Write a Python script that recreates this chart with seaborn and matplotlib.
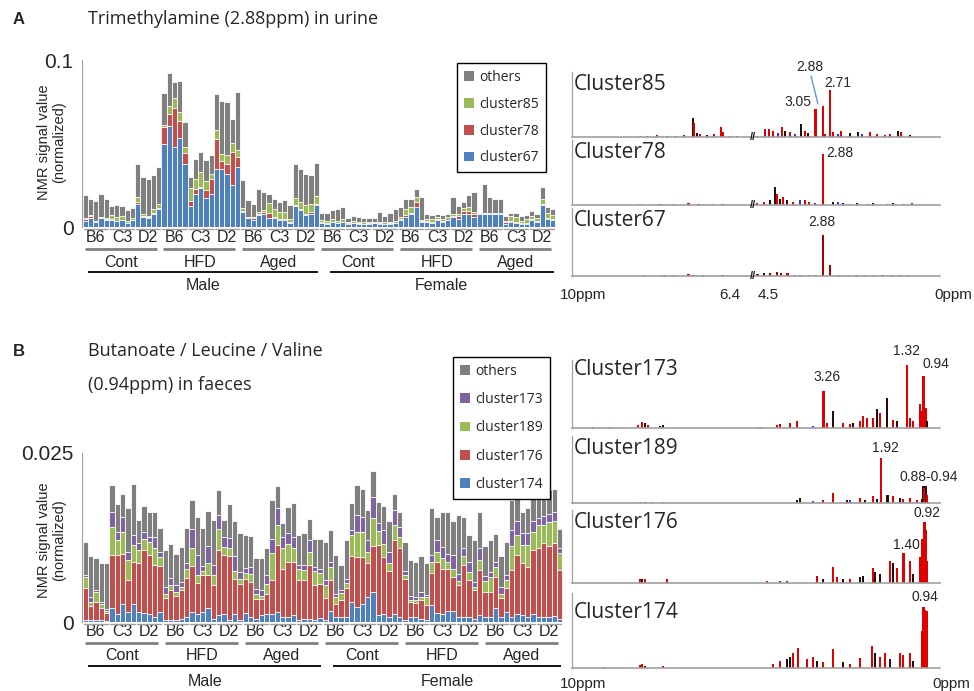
import numpy as np
import matplotlib
matplotlib.use("Agg")
import matplotlib.pyplot as plt
import seaborn as sns
from matplotlib.patches import Patch
from matplotlib.lines import Line2D

# ----------------------------------------------
# Data: panel A (urine, trimethylamine)
# ----------------------------------------------
strains = ["B6", "C3", "D2"]
conditions = ["Cont", "HFD", "Aged"]
sexes = ["Male", "Female"]

a_cluster67 = [.0038, .0054, .003, .0054, .004, .0044, .0034, .004, .0024, .004,
               .014, .006, .0054, .008, .011, .050, .0606, .0482, .053, .038,
               .0124, .020, .0233, .0173, .020, .0347, .0347, .032, .025, .036,
               .009, .0054, .0044, .007, .008, .0054, .0052, .0044, .0044, .0024,
               .0124, .0104, .0074, .008, .013,
               .0026, .002, .0028, .0022, .0028, .002, .0022, .002, .0018, .002,
               .0022, .002, .0018, .002, .0022, .004, .006, .0076, .012, .003,
               .003, .0025, .004, .003, .004, .006, .005, .0076, .0078, .006,
               .0075, .0076, .0076, .0075, .0075, .002, .003, .0026, .0018, .002,
               .004, .003, .013, .005, .004]
a_cluster78 = [.001, .001, .0005, .0005, .0008, .0003, .0003, .0003, .0002, .0003,
               .0008, .0003, .0003, .0005, .0005, .0096, .0072, .023, .0106, .0066,
               .003, .003, .0005, .005, .009, .018, .005, .006, .020, .006,
               .0005, .0003, .001, .001, .001, .003, .0005, .0003, .0003, .0003,
               .001, .0005, .0005, .0008, .001,
               .0003, .0003, .0003, .0003, .0003, .0002, .0002, .0002, .0002, .0002,
               .0002, .0002, .0002, .0002, .0002, .0006, .001, .0006, .003, .0003,
               .0003, .0003, .0005, .0003, .0003, .0004, .0015, .002, .002, .002,
               .0002, .0003, .0003, .0003, .0003, .0008, .0005, .0003, .0003, .0003,
               .0005, .0003, .001, .0005, .0005]
a_cluster85 = [.0003, .0006, .0003, .0003, .0003, .0024, .002, .002, .0008, .0008,
               .003, .0015, .0008, .0024, .002, .0014, .0044, .006, .0054, .0034,
               .008, .006, .009, .005, .003, .0056, .004, .005, .0054, .004,
               .002, .0005, .0003, .001, .001, .006, .005, .004, .004, .002,
               .004, .004, .005, .005, .0046,
               .001, .0015, .0015, .0012, .0015, .001, .001, .0008, .001, .001,
               .0008, .001, .001, .0008, .001, .0014, .004, .004, .003, .0007,
               .0015, .002, .0015, .0015, .0015, .0016, .0015, .002, .002, .001,
               .0003, .0003, .0003, .0003, .0003, .001, .003, .003, .0015, .0025,
               .002, .002, .003, .003, .0025]
a_others = [.0139, .0100, .0119, .0138, .0119, .0053, .0073, .0061, .007, .0063,
            .0202, .0222, .0225, .0201, .0222, .019, .0198, .0095, .0186, .0147,
            .0066, .012, .0122, .0127, .011, .0212, .0318, .0317, .0143, .035,
            .0165, .0098, .0083, .0137, .011, .0056, .006, .006, .0076, .0086,
            .0206, .0201, .0191, .0172, .0198,
            .0043, .0044, .0054, .0069, .0072, .002, .0032, .0028, .0022, .0024,
            .0024, .0058, .0038, .0052, .0076, .006, .006, .0043, .0045, .014,
            .0032, .0022, .002, .0022, .0017, .010, .0047, .0031, .0072, .012,
            .0005, .0173, .0098, .0084, .0084, .0028, .0021, .0027, .003, .0024,
            .0031, .0027, .0071, .0035, .0035]

# ----------------------------------------------
# Data: panel B (faeces, butanoate / leucine / valine)
# ----------------------------------------------
b_cluster174 = [.0003, .0003, .0003, .0003, .0002, .002, .0012, .0027, .0015, .0027,
                .0015, .0013, .0012, .0007, .0015, .0003, .0003, .0003, .0005, .0007,
                .0015, .0012, .0015, .002, .0005, .001, .0012, .0003, .0012, .0003,
                .0013, .0007, .0004, .0011, .0012, .0012, .0015, .0007, .0007, .0011,
                .0003, .0004, .0005, .0003, .0006,
                .0003, .0017, .0007, .0008, .0008, .003, .0022, .0027, .0037, .0045,
                .001, .0012, .0008, .0012, .0008, .0003, .0007, .0007, .0004, .0003,
                .0025, .0013, .0012, .0017, .0017, .0007, .0008, .0007, .0004, .001,
                .0007, .0008, .002, .0008, .0015, .0008, .0012, .001, .0008, .0012,
                .0008, .0008, .0008, .0009, .0005]
b_cluster176 = [.0047, .0021, .0027, .0017, .0012, .0079, .0087, .0074, .0047, .0062,
                .0072, .0093, .0087, .0077, .0068, .0032, .0044, .0035, .0042, .0058,
                .0068, .0045, .0054, .005, .005, .0097, .0087, .0094, .0052, .0053,
                .005, .0052, .003, .0023, .003, .005, .0099, .0072, .0082, .0078,
                .0059, .0058, .0079, .0052, .005,
                .0032, .0045, .002, .0025, .0042, .0067, .0074, .0069, .005, .0067,
                .0104, .0084, .0067, .0109, .0102, .006, .0022, .0021, .0028, .0022,
                .0047, .0076, .0067, .0062, .005, .0047, .0077, .0055, .0043, .0067,
                .0037, .0037, .0047, .0027, .0035, .0069, .0087, .0077, .0074, .0094,
                .0101, .0109, .0105, .0108, .0072]
b_cluster189 = [.0017, .0006, .0015, .0007, .0003, .0041, .0022, .0032, .0029, .0025,
                .002, .0017, .002, .0025, .0013, .0006, .0007, .0006, .0005, .0013,
                .0026, .0012, .0007, .0017, .0015, .0031, .0012, .0012, .0012, .0008,
                .0009, .0012, .0007, .0005, .0014, .004, .003, .003, .0027, .002,
                .0016, .0015, .002, .0021, .0017,
                .002, .002, .001, .001, .0008, .0032, .0037, .0037, .0017, .0042,
                .002, .002, .0012, .0022, .0016, .0007, .0004, .0004, .0005, .0012,
                .0017, .0015, .0015, .001, .0012, .0007, .0012, .0012, .0005, .0015,
                .0017, .0022, .0014, .0007, .0012, .0036, .003, .0027, .0032, .0027,
                .0035, .0027, .0035, .0033, .0025]
b_cluster173 = [.0003, .0007, .0002, .0002, .0002, .0023, .0012, .0022, .0013, .0015,
                .001, .001, .0007, .0017, .0007, .0011, .0011, .001, .0007, .001,
                .0028, .003, .0007, .0025, .0015, .002, .0015, .0016, .0022, .001,
                .0008, .001, .0008, .0008, .0013, .0021, .0025, .0017, .0015, .0017,
                .0006, .0007, .0017, .0006, .0005,
                .0007, .0007, .0005, .0005, .0005, .0007, .0025, .0023, .0017, .0031,
                .0012, .002, .0017, .0022, .0015, .0005, .0006, .0005, .0007, .0003,
                .001, .0017, .0017, .0012, .002, .001, .0012, .0015, .0007, .0017,
                .0007, .0007, .0008, .001, .0007, .0023, .002, .0018, .0017, .0017,
                .001, .0013, .0012, .0012, .0008]
b_others = [.0049, .006, .0047, .0058, .0068, .004, .0041, .0035, .0064, .0075,
            .0034, .0039, .0037, .0037, .0036, .0054, .005, .0047, .0052, .0051,
            .0044, .0057, .0056, .0052, .0066, .0038, .0025, .0049, .0051, .0058,
            .0049, .0046, .0045, .0047, .004, .0058, .0032, .0021, .0039, .005,
            .0045, .0047, .0032, .0041, .0045,
            .0057, .0047, .0057, .0037, .0058, .004, .0045, .0041, .0045, .0038,
            .0032, .0036, .0045, .0025, .0022, .0044, .0053, .0052, .0054, .0048,
            .0069, .0035, .0052, .0061, .005, .0087, .0047, .004, .0062, .0054,
            .0044, .0047, .0041, .0045, .005, .0045, .0034, .0031, .0037, .004,
            .0036, .0041, .0035, .0035, .0027]

# ----------------------------------------------
# Data: loading spectra (ppm, relative height, colour code)
# ----------------------------------------------
s85_ppm = [8.60, 8.46, 8.25, 8.05, 7.88, 7.70, 7.51, 7.49, 7.43, 7.37, 7.22, 7.08, 6.93, 6.89, 6.75, 6.60,
           4.41, 4.22, 4.13, 4.04, 3.92, 3.83, 3.76, 3.64, 3.53, 3.39, 3.29, 3.22, 3.05, 2.88, 2.71,
           2.83, 2.64, 2.53, 2.46, 2.25, 2.06, 1.97, 1.79, 1.62, 1.44, 1.32, 1.14, 1.07, 0.86]
s85_h = [.02, .02, .03, .02, .02, .03, .29, .22, .06, .04, .03, .04, .16, .08, .02, .01,
         .02, .12, .13, .09, .06, .15, .10, .08, .05, .20, .10, .06, .43, .47, .72,
         .04, .07, .05, .10, .06, .08, .04, .07, .05, .03, .05, .09, .08, .03]
s85_col = "rrrrbrkrkrkrrrbb" + "brrrbrkrbkrkrrrrrbrkkbrrrrkrk"

s78_ppm = [8.6, 8.2, 7.9, 7.6, 7.4, 7.1, 6.9,
           4.41, 4.24, 4.11, 3.99, 3.94, 3.87, 3.80, 3.71, 3.57, 3.41, 3.29, 3.20, 3.06, 2.88,
           2.64, 2.53, 2.41, 2.25, 2.09, 1.85, 1.72, 1.39, 1.25, 1.02, 0.81]
s78_h = [.01, .01, .02, .03, .02, .02, .02,
         .03, .05, .08, .27, .17, .10, .12, .07, .05, .08, .07, .05, .03, .79,
         .04, .05, .03, .02, .03, .02, .03, .02, .03, .02, .03]
s78_col = "rkkrkbb" + "rrkkrkrkrbrrbr" + "kbkbkbkbkbb"

s67_ppm = [8.5, 8.1, 7.9, 7.6, 7.5, 7.3, 6.9,
           4.4, 4.25, 4.1, 3.95, 3.85, 3.7, 3.55, 3.4, 3.2, 3.05, 2.88, 2.71,
           2.5, 2.3, 2.1, 1.9, 1.7, 1.5, 1.3, 1.1, 0.9]
s67_h = [.01, .01, .02, .03, .02, .01, .01,
         .03, .04, .05, .06, .05, .04, .02, .02, .02, .02, .60, .16,
         .02, .02, .02, .02, .02, .02, .02, .02, .02]
s67_col = "dkdrbbd" + "dkdddrbbbd" + "dd" + "bbkbbkbrb"

s173_ppm = [9.42, 8.94, 8.17, 8.06, 7.97, 7.89, 7.56, 7.47,
            4.78, 4.34, 4.27, 4.04, 3.87, 3.50, 3.26, 3.18, 3.04, 2.81, 2.65, 2.57, 2.41, 2.34,
            2.25, 2.11, 2.02, 1.95, 1.79, 1.65, 1.56, 1.32, 1.25, 1.18, 1.02, 0.97, 0.94, 0.88, 0.86]
s173_h = [.01, .01, .05, .09, .07, .05, .03, .04,
          .02, .05, .06, .08, .10, .03, .54, .08, .25, .08, .06, .07, .10, .18,
          .15, .15, .28, .22, .44, .12, .10, .93, .15, .10, .35, .25, .76, .30, .10]
s173_col = "rrrrkrkk" + "krrrrbrrkrrkrrrrkrkrkrrrrrrrk"

s189_ppm = [8.11, 7.97, 7.75, 7.47,
            3.87, 3.80, 3.50, 3.27, 3.04, 2.72, 2.65, 2.41, 2.30, 2.11, 2.02, 1.92,
            1.77, 1.65, 1.49, 1.41, 1.25, 1.09, 0.97, 0.94, 0.92, 0.88, 0.86]
s189_h = [.02, .02, .02, .02,
          .05, .08, .03, .05, .15, .04, .04, .08, .05, .10, .06, .67,
          .12, .10, .08, .06, .07, .05, .06, .25, .22, .25, .12]
s189_col = "rkrr" + "kkbrrkbrkrkrkrkrrrkkrkr"

s176_ppm = [8.11, 8.06, 7.97, 7.36,
            4.58, 4.27, 4.11, 3.41, 3.27, 3.04, 2.95, 2.81, 2.65, 2.41, 2.34, 2.11, 2.06,
            1.95, 1.72, 1.65, 1.56, 1.40, 1.25, 1.18, 1.02, 0.97, 0.92, 0.88, 0.86]
s176_h = [.06, .05, .06, .05,
          .03, .03, .03, .10, .05, .22, .08, .06, .05, .08, .10, .20, .15,
          .12, .30, .27, .20, .41, .30, .12, .35, .60, .84, .73, .30]
s176_col = "rkrr" + "rrbrkrrkrkkrkkrkrrrkrrrrr"

s174_ppm = [9.14, 8.11, 8.06, 7.97, 7.47,
            4.43, 4.27, 4.11, 4.04, 3.97, 3.85, 3.64, 3.50, 3.41, 3.27, 3.04, 2.81, 2.65, 2.41,
            2.13, 2.06, 1.95, 1.83, 1.72, 1.49, 1.41, 1.25, 1.18, 0.97, 0.94, 0.90, 0.86]
s174_h = [.01, .04, .05, .03, .03,
          .05, .10, .12, .15, .20, .27, .12, .15, .10, .08, .25, .08, .06, .13,
          .30, .20, .15, .20, .12, .20, .18, .20, .10, .50, .81, .77, .76]
s174_col = "rrrkr" + "rrkkrrrrkrrkrrrkrrkrrrkrrrr"

# ----------------------------------------------
# Style
# ----------------------------------------------
sns.set_style("white")
plt.rcParams["font.family"] = ["Liberation Sans", "DejaVu Sans"]

GRAY, GREEN, RED, BLUE, PURPLE = "#7f7f7f", "#9bbb59", "#c0504d", "#4f81bd", "#8064a2"
PEAK_COLORS = {"r": "#e00000", "d": "#a00000", "k": "#2a0a0a", "b": "#2233ff"}
AXIS_GRAY = "#a0a0a0"

W, H = 974, 691
fig = plt.figure(figsize=(W / 100, H / 100), dpi=100)


def fx(x):
    return x / W


def fy(y):
    return 1 - y / H


def add_ax(l, t, r, b):
    return fig.add_axes([l / W, 1 - b / H, (r - l) / W, (b - t) / H])


def stacked_bars(ax, layers, colors):
    idx = np.arange(len(layers[0]))
    tops = np.cumsum(np.array(layers), axis=0)
    # draw tallest first, then the lower layers over it
    for top, col in reversed(list(zip(tops, colors))):
        sns.barplot(x=idx, y=top, color=col, width=1.0, saturation=1,
                    edgecolor="white", linewidth=0.6, errorbar=None, ax=ax)


def group_labels(ax, y_strain_pad, y_cline, y_clab, y_sline, y_slab):
    tr = ax.get_xaxis_transform()
    centers = [5 * g + 2 for g in range(18)]
    ax.set_xticks(centers, [strains[g % 3] for g in range(18)], fontsize=11.5)
    ax.tick_params(axis="x", length=0, pad=y_strain_pad)
    for g in range(18):
        ax.plot([5 * g - 0.3, 5 * g + 4.3], [-0.012, -0.012], color=AXIS_GRAY, lw=1,
                transform=tr, clip_on=False)
    for c in range(6):
        x0 = 15 * c
        ax.plot([x0 - 0.1, x0 + 13.6], [y_cline, y_cline], color="#808080", lw=2,
                transform=tr, clip_on=False, solid_capstyle="butt")
        ax.text(x0 + 6.9, y_clab, conditions[c % 3], ha="center", va="center",
                fontsize=11.5, transform=tr)
    for s, (a, b) in enumerate([(0.5, 44.3), (46.5, 89.2)]):
        ax.plot([a, b], [y_sline, y_sline], color="black", lw=1.3, transform=tr,
                clip_on=False, solid_capstyle="butt")
        ax.text((a + b) / 2, y_slab, sexes[s], ha="center", va="center",
                fontsize=11.5, transform=tr)


def style_bar_axes(ax, ymax, yticks, ylabels):
    ax.set_xlim(-0.6, 89.6)
    ax.set_ylim(0, ymax)
    ax.set_yticks(yticks, ylabels)
    ax.tick_params(axis="y", labelsize=15, length=4, width=1, color=AXIS_GRAY, pad=2)
    ax.set_xlabel("")
    ax.set_ylabel("")
    for side in ["top", "right", "bottom"]:
        ax.spines[side].set_visible(False)
    ax.spines["left"].set_color(AXIS_GRAY)


def draw_spectrum(ax, ppm, h, cols, anc_ppm, anc_u):
    u = np.interp(ppm, anc_ppm, anc_u)
    ax.bar(u, h, width=2.4, color=[PEAK_COLORS[c] for c in cols], linewidth=0)
    ax.set_xlim(0, 368)
    ax.set_ylim(0, 1)
    ax.set_xticks([])
    ax.set_yticks([])
    for side in ["top", "right"]:
        ax.spines[side].set_visible(False)
    ax.spines["left"].set_color(AXIS_GRAY)
    ax.spines["bottom"].set_color(AXIS_GRAY)
    ax.spines["left"].set_linewidth(0.9)
    ax.spines["bottom"].set_linewidth(1.2)
    ax.patch.set_alpha(0)


def legend_box(labels, colors, x, y, spacing):
    handles = [Patch(facecolor=c, edgecolor="none") for c in colors]
    leg = fig.legend(handles, labels, loc="upper left", bbox_to_anchor=(fx(x), fy(y)),
                     frameon=True, fancybox=False, edgecolor="black", framealpha=1,
                     handlelength=0.7, handleheight=0.7, handletextpad=0.4,
                     labelspacing=spacing, borderpad=0.5, borderaxespad=0,
                     prop={"family": "Open Sans", "size": 10})
    leg.get_frame().set_linewidth(1.0)


# ----------------------------------------------
# Panel A
# ----------------------------------------------
fig.text(fx(13), fy(19), "A", fontsize=12, fontweight="bold", va="center")
fig.text(fx(88), fy(19), "Trimethylamine (2.88ppm) in urine", fontsize=13,
         family="Open Sans", va="center")

axA = add_ax(82, 60, 556, 227)
stacked_bars(axA, [a_cluster67, a_cluster78, a_cluster85, a_others], [BLUE, RED, GREEN, GRAY])
style_bar_axes(axA, 0.1, [0, 0.05, 0.1], ["0", "", "0.1"])
group_labels(axA, 2.5, -0.132, -0.21, -0.27, -0.353)
fig.text(fx(52), fy(142), "NMR signal value\n(normalized)", rotation=90, ha="center",
         va="center", fontsize=10.5, multialignment="center", linespacing=1.1)
legend_box(["others", "cluster85", "cluster78", "cluster67"], [GRAY, GREEN, RED, BLUE], 457, 63, 0.85)

anchorsA = ([0, 4.5, 6.4, 10], [375, 181, 175, 0])
specA = [("Cluster85", s85_ppm, s85_h, s85_col, (72, 137), 84),
         ("Cluster78", s78_ppm, s78_h, s78_col, (140, 205), 152),
         ("Cluster67", s67_ppm, s67_h, s67_col, (208, 276), 220)]
for name, p, h, c, (t, b), ly in specA:
    ax = add_ax(572, t, 940, b)
    draw_spectrum(ax, p, h, c, *anchorsA)
    ax.text(181, 0, "//", ha="center", va="center", fontsize=8, fontweight="bold",
            color="#222222")
    fig.text(fx(574), fy(ly), name, fontsize=15, family="Open Sans", va="center")

fig.text(fx(810), fy(67), "2.88", fontsize=10, ha="center", va="center")
fig.add_artist(Line2D([fx(811), fx(818)], [fy(76), fy(104)], color="#5b9bd5", lw=1))
fig.text(fx(798), fy(102), "3.05", fontsize=10, ha="center", va="center")
fig.text(fx(838), fy(83), "2.71", fontsize=10, ha="center", va="center")
fig.text(fx(840), fy(153), "2.88", fontsize=10, ha="center", va="center")
fig.text(fx(822), fy(222), "2.88", fontsize=10, ha="center", va="center")
fig.text(fx(560), fy(295), "10ppm", fontsize=11, va="center")
fig.text(fx(730), fy(295), "6.4", fontsize=11, ha="center", va="center")
fig.text(fx(768), fy(295), "4.5", fontsize=11, ha="center", va="center")
fig.text(fx(972), fy(295), "0ppm", fontsize=11, ha="right", va="center")

# ----------------------------------------------
# Panel B
# ----------------------------------------------
fig.text(fx(13), fy(352), "B", fontsize=12, fontweight="bold", va="center")
fig.text(fx(88), fy(351), "Butanoate / Leucine / Valine", fontsize=13,
         family="Open Sans", va="center")
fig.text(fx(88), fy(385), "(0.94ppm) in faeces", fontsize=13,
         family="Open Sans", va="center")

axB = add_ax(82, 453, 563, 622)
stacked_bars(axB, [b_cluster174, b_cluster176, b_cluster189, b_cluster173, b_others],
             [BLUE, RED, GREEN, PURPLE, GRAY])
style_bar_axes(axB, 0.025, [0, 0.005, 0.01, 0.015, 0.02, 0.025], ["0", "", "", "", "", "0.025"])
group_labels(axB, 1.5, -0.124, -0.2, -0.26, -0.35)
fig.text(fx(52), fy(540), "NMR signal value\n(normalized)", rotation=90, ha="center",
         va="center", fontsize=10.5, multialignment="center", linespacing=1.1)
legend_box(["others", "cluster173", "cluster189", "cluster176", "cluster174"],
           [GRAY, PURPLE, GREEN, RED, BLUE], 453, 357, 0.95)

anchorsB = ([0, 4.5, 10], [392, 198, 0])
specB = [("Cluster173", s173_ppm, s173_h, s173_col, (360, 428), 369),
         ("Cluster189", s189_ppm, s189_h, s189_col, (436, 503), 449),
         ("Cluster176", s176_ppm, s176_h, s176_col, (510, 583), 523),
         ("Cluster174", s174_ppm, s174_h, s174_col, (593, 668), 612)]
for name, p, h, c, (t, b), ly in specB:
    ax = add_ax(572, t, 940, b)
    draw_spectrum(ax, p, h, c, *anchorsB)
    fig.text(fx(574), fy(ly), name, fontsize=15, family="Open Sans", va="center")

fig.text(fx(827), fy(377), "3.26", fontsize=10, ha="center", va="center")
fig.text(fx(907), fy(351), "1.32", fontsize=10, ha="center", va="center")
fig.text(fx(936), fy(364), "0.94", fontsize=10, ha="center", va="center")
fig.text(fx(885), fy(448), "1.92", fontsize=10, ha="center", va="center")
fig.text(fx(929), fy(477), "0.88-0.94", fontsize=10, ha="center", va="center")
fig.text(fx(927), fy(513), "0.92", fontsize=10, ha="center", va="center")
fig.text(fx(906), fy(545), "1.40", fontsize=10, ha="center", va="center")
fig.text(fx(925), fy(597), "0.94", fontsize=10, ha="center", va="center")
fig.text(fx(560), fy(684), "10ppm", fontsize=11, va="center")
fig.text(fx(970), fy(684), "0ppm", fontsize=11, ha="right", va="center")

fig.savefig("out.png", dpi=100)
